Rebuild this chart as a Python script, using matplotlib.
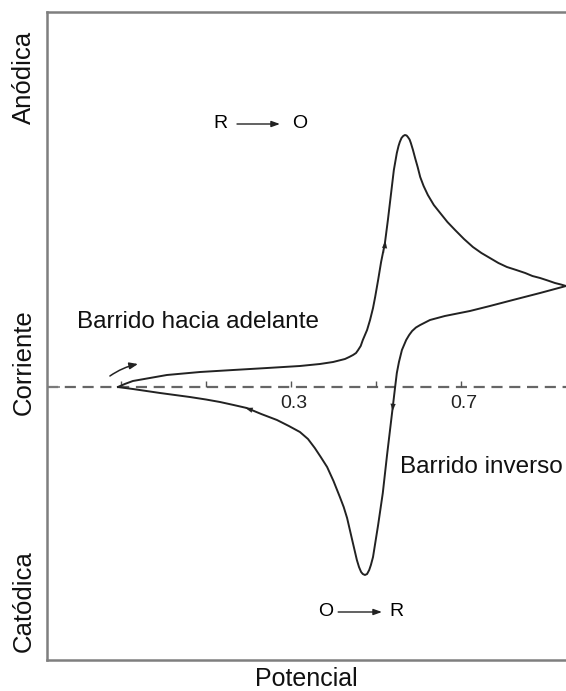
import matplotlib.pyplot as plt
import numpy as np

plt.rcParams['font.family'] = ['Liberation Sans', 'DejaVu Sans']

# forward sweep: potential (V) and current (arb. units)
e_fwd = [-0.107, -0.091, -0.072, -0.032, 0.008, 0.086, 0.164, 0.244, 0.321, 0.368,
         0.399, 0.427, 0.437, 0.446, 0.453, 0.458, 0.464, 0.469, 0.479, 0.486,
         0.493, 0.498, 0.505, 0.512, 0.521, 0.528, 0.535, 0.542, 0.549, 0.553,
         0.556, 0.560, 0.564, 0.568, 0.572, 0.575, 0.579, 0.582, 0.587, 0.592,
         0.598, 0.604, 0.612, 0.622, 0.636, 0.651, 0.668, 0.686, 0.707, 0.728,
         0.748, 0.768, 0.788, 0.808, 0.830, 0.851, 0.868, 0.886, 0.904, 0.921,
         0.935, 0.947]
i_fwd = [0.0, 0.3, 0.6, 0.9, 1.2, 1.5, 1.7, 1.9, 2.1, 2.3,
         2.5, 2.8, 3.0, 3.2, 3.4, 3.7, 4.1, 4.7, 5.7, 6.7,
         7.9, 9.0, 10.7, 12.5, 14.4, 16.7, 19.2, 21.7, 23.4, 24.1,
         24.5, 24.9, 25.1, 25.2, 25.15, 25.0, 24.75, 24.4, 23.7, 22.9,
         22.0, 21.0, 20.1, 19.2, 18.2, 17.4, 16.5, 15.7, 14.8, 14.0,
         13.4, 12.9, 12.4, 12.0, 11.7, 11.4, 11.1, 10.9, 10.65, 10.4,
         10.25, 10.1]

# reverse sweep
e_rev = [0.947, 0.886, 0.822, 0.768, 0.721, 0.662, 0.627, 0.604, 0.594, 0.585,
         0.578, 0.571, 0.566, 0.561, 0.554, 0.549, 0.545, 0.540, 0.533, 0.526,
         0.516, 0.505, 0.493, 0.488, 0.484, 0.479, 0.474, 0.469, 0.465, 0.460,
         0.455, 0.444, 0.432, 0.424, 0.415, 0.400, 0.385, 0.370, 0.356, 0.340,
         0.321, 0.295, 0.267, 0.230, 0.196, 0.165, 0.133, 0.100, 0.062, 0.027,
         -0.008, -0.040, -0.072, -0.090, -0.107]
i_rev = [10.1, 9.4, 8.7, 8.1, 7.6, 7.1, 6.7, 6.2, 5.95, 5.6,
         5.2, 4.7, 4.2, 3.7, 2.5, 1.4, 0.0, -1.8, -4.3, -6.8,
         -10.6, -13.8, -17.0, -17.8, -18.3, -18.7, -18.8, -18.7, -18.5, -18.0,
         -17.3, -15.3, -13.1, -12.0, -11.0, -9.4, -8.0, -7.0, -6.1, -5.2,
         -4.5, -3.9, -3.3, -2.7, -2.1, -1.8, -1.5, -1.25, -1.0, -0.8,
         -0.6, -0.4, -0.2, -0.1, 0.0]

tick_e = [-0.1, 0.1, 0.3, 0.5, 0.7]
label_e = [0.3, 0.7]

fig = plt.figure(figsize=(5.66, 6.91), dpi=100)
ax = fig.add_axes([47/566, 31/691, 1.0 - 47/566, 648/691])
ax.set_xlim(-0.274, 0.947)
ax.set_ylim(-27.3, 37.5)

spine_col = '#7f7f7f'
for side in ['left', 'top', 'bottom']:
    ax.spines[side].set_color(spine_col)
    ax.spines[side].set_linewidth(1.8)
ax.spines['right'].set_visible(False)
ax.set_xticks([])
ax.set_yticks([0])
ax.set_yticklabels([])
ax.tick_params(axis='y', direction='in', length=9, width=1.2, color=spine_col)

# zero-current line with small potential ticks
ax.axhline(0, color='#666666', lw=1.6, ls=(0, (5, 3)), zorder=1)
ax.vlines(tick_e, 0, 0.6, color='#555555', lw=1.0)
for e in label_e:
    ax.text(e + 0.007, -1.7, f'{e:.1f}', ha='center', va='center', fontsize=14, color='#222222')

line_col = '#222222'
ax.plot(e_fwd, i_fwd, color=line_col, lw=1.4, solid_joinstyle='round', zorder=3)
ax.plot(e_rev, i_rev, color=line_col, lw=1.4, solid_joinstyle='round', zorder=3)

# direction arrowheads on the curve
def head(x0, y0, x1, y1):
    ax.annotate('', xy=(x1, y1), xytext=(x0, y0),
                arrowprops=dict(arrowstyle='-|>,head_length=0.5,head_width=0.18',
                                color=line_col, lw=0.1, shrinkA=0, shrinkB=0), zorder=4)

head(0.519, 13.4, 0.522, 14.6)
head(0.541, -1.2, 0.539, -2.4)
head(0.215, -2.4, 0.193, -2.1)

# start-of-sweep arrow
ax.annotate('', xy=(-0.060, 2.3), xytext=(-0.126, 1.1),
            arrowprops=dict(arrowstyle='-|>,head_length=0.5,head_width=0.2',
                            connectionstyle='arc3,rad=-0.1', color=line_col, lw=1.1,
                            shrinkA=0, shrinkB=0))

# redox labels
fs = 14
ax.text(0.135, 26.3, 'R', ha='center', va='center', fontsize=fs)
ax.text(0.321, 26.3, 'O', ha='center', va='center', fontsize=fs)
ax.annotate('', xy=(0.274, 26.3), xytext=(0.173, 26.3),
            arrowprops=dict(arrowstyle='-|>,head_length=0.5,head_width=0.18',
                            color='#222222', lw=1.0, shrinkA=0, shrinkB=0))
ax.text(0.381, -22.5, 'O', ha='center', va='center', fontsize=fs)
ax.text(0.548, -22.5, 'R', ha='center', va='center', fontsize=fs)
ax.annotate('', xy=(0.514, -22.5), xytext=(0.411, -22.5),
            arrowprops=dict(arrowstyle='-|>,head_length=0.5,head_width=0.18',
                            color='#222222', lw=1.0, shrinkA=0, shrinkB=0))

ax.text(-0.204, 6.5, 'Barrido hacia adelante', ha='left', va='center', fontsize=17.5, color='#111111')
ax.text(0.556, -8.0, 'Barrido inverso', ha='left', va='center', fontsize=17.5, color='#111111')

# outer labels
side_fs = 18.5
fig.text(24/566, 1 - 77/691, 'Anódica', rotation=90, ha='center', va='center', fontsize=side_fs, color='#111111')
fig.text(24/566, 1 - 362/691, 'Corriente', rotation=90, ha='center', va='center', fontsize=side_fs, color='#111111')
fig.text(24/566, 1 - 601/691, 'Catódica', rotation=90, ha='center', va='center', fontsize=side_fs, color='#111111')
fig.text(306/566, 1 - 679/691, 'Potencial', ha='center', va='center', fontsize=18, color='#111111')

fig.savefig('out.png', dpi=100)
